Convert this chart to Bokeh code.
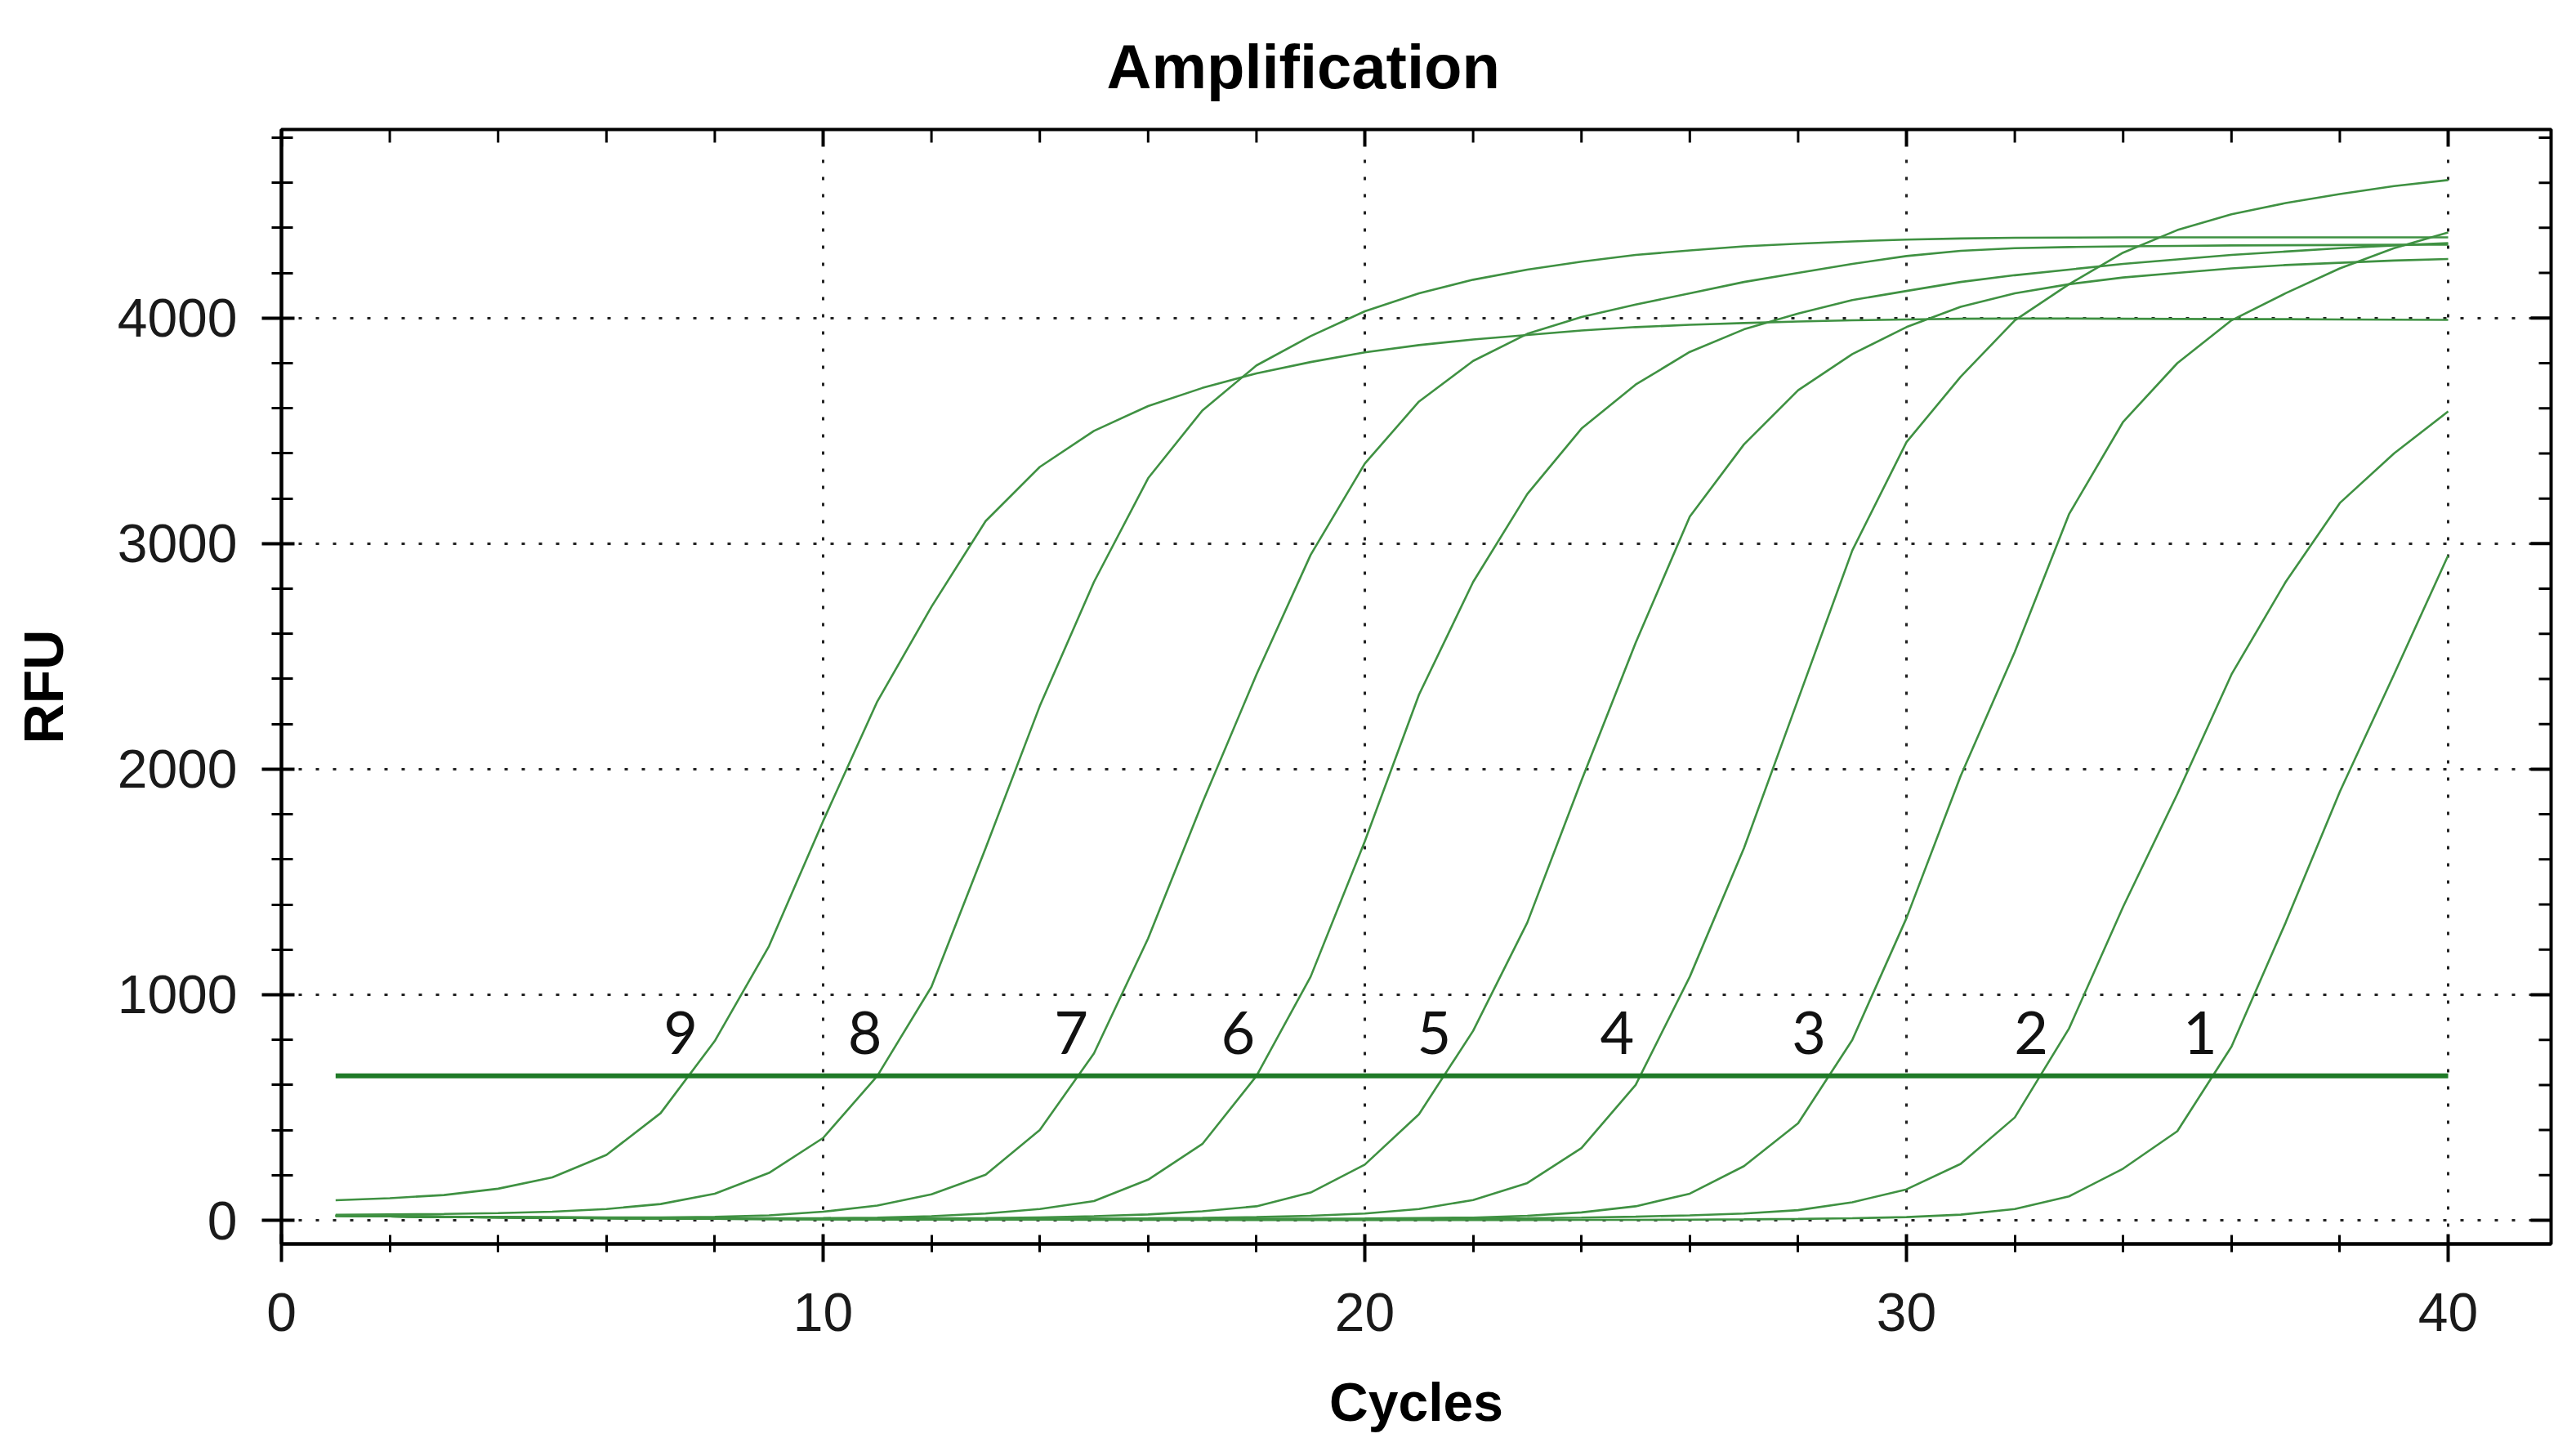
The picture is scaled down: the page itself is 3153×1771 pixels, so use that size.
from bokeh.plotting import figure
from bokeh.models import Range1d, FixedTicker, ColumnDataSource
from bokeh.embed import file_html
from bokeh.resources import INLINE
from bokeh.core.properties import value

# ---------------- data ----------------
cycles = [1, 2, 3, 4, 5, 6, 7, 8, 9, 10, 11, 12, 13, 14, 15, 16, 17, 18, 19, 20,
          21, 22, 23, 24, 25, 26, 27, 28, 29, 30, 31, 32, 33, 34, 35, 36, 37, 38, 39, 40]

rfu_1 = [20, 17, 15, 13, 11, 9, 8, 7, 6, 5, 4, 4, 3, 3, 2, 2, 2, 1, 1, 1,
         1, 1, 1, 2, 2, 3, 4, 6, 9, 14, 25, 50, 106, 229, 395, 770, 1320, 1900, 2420, 2948]
rfu_2 = [20, 17, 15, 13, 11, 9, 8, 7, 6, 5, 4, 4, 3, 3, 3, 3, 3, 4, 4, 5,
         6, 7, 9, 12, 16, 22, 30, 45, 80, 137, 250, 456, 850, 1390, 1890, 2420, 2830, 3180, 3400, 3586]
rfu_3 = [20, 17, 15, 13, 11, 9, 8, 7, 6, 5, 5, 4, 4, 4, 4, 5, 5, 6, 7, 8,
         10, 12, 20, 35, 62, 118, 240, 430, 800, 1340, 1970, 2520, 3130, 3540, 3800, 3990, 4110, 4220, 4310, 4380]
rfu_4 = [20, 17, 15, 13, 11, 9, 8, 7, 6, 6, 6, 6, 6, 7, 8, 9, 11, 14, 20, 30,
         50, 90, 165, 320, 600, 1080, 1650, 2310, 2970, 3450, 3740, 3990, 4150, 4290, 4390, 4460, 4510, 4550, 4585, 4612]
rfu_5 = [20, 17, 15, 13, 11, 10, 9, 8, 8, 8, 8, 9, 10, 13, 18, 26, 40, 62, 123, 247,
         470, 840, 1320, 1950, 2560, 3120, 3440, 3680, 3840, 3960, 4050, 4110, 4150, 4180, 4200, 4220, 4235, 4245, 4255, 4262]
rfu_6 = [20, 18, 16, 14, 12, 11, 10, 9, 9, 10, 12, 18, 30, 50, 85, 180, 338, 640, 1080, 1680,
         2330, 2830, 3220, 3510, 3705, 3850, 3950, 4020, 4080, 4120, 4160, 4190, 4215, 4240, 4260, 4280, 4295, 4310, 4322, 4332]
rfu_7 = [20, 18, 16, 15, 14, 13, 13, 15, 22, 38, 65, 115, 202, 400, 740, 1250, 1850, 2420, 2950, 3355,
         3630, 3810, 3930, 4005, 4060, 4110, 4160, 4200, 4240, 4275, 4298, 4310, 4315, 4318, 4320, 4322, 4323, 4324, 4325, 4325]
rfu_8 = [24, 26, 28, 32, 38, 50, 72, 118, 210, 365, 640, 1035, 1650, 2280, 2830, 3290, 3590, 3790, 3920, 4030,
         4110, 4170, 4215, 4250, 4280, 4300, 4318, 4330, 4340, 4348, 4353, 4356, 4357, 4358, 4358, 4358, 4358, 4358, 4358, 4358]
rfu_9 = [89, 98, 112, 140, 190, 290, 475, 795, 1215, 1770, 2300, 2720, 3100, 3340, 3500, 3610, 3690, 3755, 3805, 3848,
         3880, 3905, 3925, 3945, 3960, 3970, 3978, 3985, 3990, 3994, 3997, 3998, 3998, 3997, 3996, 3995, 3995, 3994, 3993, 3992]

curves = [rfu_1, rfu_2, rfu_3, rfu_4, rfu_5, rfu_6, rfu_7, rfu_8, rfu_9]

threshold = 640

label_text = ["9", "8", "7", "6", "5", "4", "3", "2", "1"]
label_x = [7.37, 10.77, 14.58, 17.66, 21.28, 24.66, 28.2, 32.3, 35.42]
label_y = [830, 830, 830, 830, 830, 830, 830, 830, 830]

x_ticks = [0, 10, 20, 30, 40]
x_minor = [2, 4, 6, 8, 12, 14, 16, 18, 22, 24, 26, 28, 32, 34, 36, 38]
y_ticks = [0, 1000, 2000, 3000, 4000]
y_minor = [200, 400, 600, 800, 1200, 1400, 1600, 1800, 2200, 2400, 2600, 2800,
           3200, 3400, 3600, 3800, 4200, 4400, 4600, 4800]

# ---------------- layout / styles ----------------
X_MIN, X_MAX = 0, 41.9
Y_MIN, Y_MAX = -105, 4836
W, H = 3137, 1755
BL, BR, BT, BB = 344, 15, 158, 231
FRAME_W = W - BL - BR
FRAME_H = H - BT - BB

CURVE = "#3f9142"
THRESH = "#1f7a27"
FONT = "Liberation Sans"

p = figure(width=W, height=H,
           x_range=Range1d(X_MIN, X_MAX), y_range=Range1d(Y_MIN, Y_MAX),
           output_backend="svg", toolbar_location=None,
           min_border_left=BL, min_border_right=BR,
           min_border_top=BT, min_border_bottom=BB,
           title="Amplification",
           background_fill_color="white", border_fill_color="white")

p.outline_line_color = "black"
p.outline_line_width = 4

# title
p.title.text_font = FONT
p.title.text_font_size = "76px"
p.title.text_font_style = "bold"
p.title.text_color = "black"
p.title.align = "left"
p.title.offset = 1010
p.title.vertical_align = "bottom"
p.title.standoff = 70

# bottom axis
xa = p.below[0]
xa.ticker = FixedTicker(ticks=x_ticks, minor_ticks=x_minor)
xa.axis_line_width = 4
xa.axis_line_color = "black"
xa.major_tick_line_width = 4
xa.minor_tick_line_width = 3
xa.major_tick_line_color = "black"
xa.minor_tick_line_color = "black"
xa.major_tick_in = 12
xa.major_tick_out = 22
xa.minor_tick_in = 11
xa.minor_tick_out = 10
xa.major_label_text_font = FONT
xa.major_label_text_font_size = "66px"
xa.major_label_text_color = "#1a1a1a"
xa.major_label_standoff = 38
xa.axis_label = "Cycles"
xa.axis_label_text_font = FONT
xa.axis_label_text_font_size = "66px"
xa.axis_label_text_font_style = "bold"
xa.axis_label_text_color = "black"
xa.axis_label_standoff = 47

# left axis
ya = p.left[0]
ya.ticker = FixedTicker(ticks=y_ticks, minor_ticks=y_minor)
ya.axis_line_width = 4
ya.axis_line_color = "black"
ya.major_tick_line_width = 4
ya.minor_tick_line_width = 3
ya.major_tick_line_color = "black"
ya.minor_tick_line_color = "black"
ya.major_tick_in = 16
ya.major_tick_out = 24
ya.minor_tick_in = 14
ya.minor_tick_out = 12
ya.major_label_text_font = FONT
ya.major_label_text_font_size = "66px"
ya.major_label_text_color = "#1a1a1a"
ya.major_label_standoff = 30
ya.axis_label = "RFU"
ya.axis_label_text_font = FONT
ya.axis_label_text_font_size = "68px"
ya.axis_label_text_font_style = "bold"
ya.axis_label_text_color = "black"
ya.axis_label_standoff = 50

# grid follows the tick lists
p.xgrid[0].ticker = xa.ticker
p.ygrid[0].ticker = ya.ticker
for g in (p.xgrid[0], p.ygrid[0]):
    g.grid_line_color = "#222222"
    g.grid_line_width = 3
    g.grid_line_dash = "4 17"

# inner tick marks on the top and right frame edges (from the tick lists)
px_x = (X_MAX - X_MIN) / FRAME_W
px_y = (Y_MAX - Y_MIN) / FRAME_H
p.segment(x0=x_ticks, y0=[Y_MAX] * len(x_ticks), x1=x_ticks,
          y1=[Y_MAX - 21 * px_y] * len(x_ticks), line_color="black", line_width=4)
p.segment(x0=x_minor, y0=[Y_MAX] * len(x_minor), x1=x_minor,
          y1=[Y_MAX - 16 * px_y] * len(x_minor), line_color="black", line_width=3)
p.segment(x0=[X_MAX] * len(y_ticks), y0=y_ticks, x1=[X_MAX - 25 * px_x] * len(y_ticks),
          y1=y_ticks, line_color="black", line_width=4)
p.segment(x0=[X_MAX] * len(y_minor), y0=y_minor, x1=[X_MAX - 15 * px_x] * len(y_minor),
          y1=y_minor, line_color="black", line_width=3)

# curves
for vals in curves:
    p.line(cycles, vals, line_color=CURVE, line_width=2.6)

# threshold
p.line([cycles[0], cycles[-1]], [threshold, threshold], line_color=THRESH, line_width=6)

# curve labels
src = ColumnDataSource(dict(x=label_x, y=label_y, t=label_text))
p.text(x="x", y="y", text="t", source=src, text_font=value("Lato"),
       text_font_size="72px", text_align="center", text_baseline="middle",
       text_color="#111111")

open("out.html", "w").write(file_html(p, INLINE))
